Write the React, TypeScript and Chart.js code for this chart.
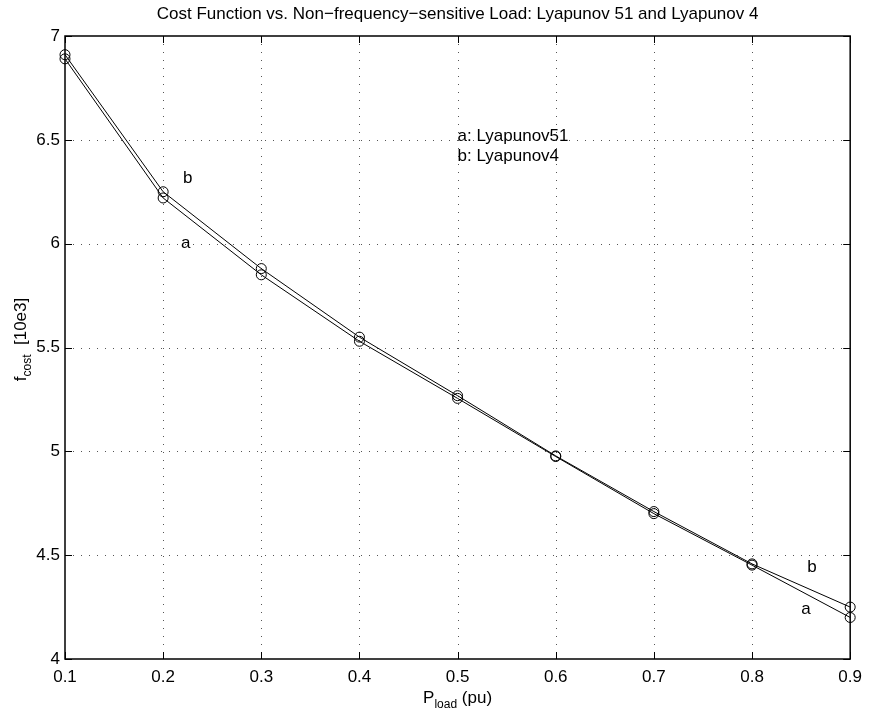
import React, { useEffect, useRef } from "react";
import { Chart, registerables } from "chart.js";

Chart.register(...registerables);

// ---- data ----
const loads = [0.1, 0.2, 0.3, 0.4, 0.5, 0.6, 0.7, 0.8, 0.9];
const costA = [6.89, 6.22, 5.85, 5.53, 5.255, 4.975, 4.7, 4.452, 4.2];
const costB = [6.91, 6.25, 5.88, 5.55, 5.268, 4.978, 4.71, 4.458, 4.25];
const xTicks = [0.1, 0.2, 0.3, 0.4, 0.5, 0.6, 0.7, 0.8, 0.9];
const yTicks = [4, 4.5, 5, 5.5, 6, 6.5, 7];
const titleText =
  "Cost Function vs. Non\u2212frequency\u2212sensitive Load: Lyapunov 51 and Lyapunov 4";
const curveLabels = [
  { text: "b", x: 0.225, y: 6.315 },
  { text: "a", x: 0.223, y: 6.0 },
  { text: "b", x: 0.861, y: 4.443 },
  { text: "a", x: 0.855, y: 4.24 },
];
const legendLines = ["a: Lyapunov51", "b: Lyapunov4"];
const legendPos = { x: 0.5, y: [6.515, 6.42] };

const FONT = "'Liberation Sans', Arial, Helvetica, sans-serif";
const FS = 17;

const framePlugin = {
  id: "matlabFrame",
  beforeDatasetsDraw(chart: any) {
    const { ctx, chartArea: a, scales } = chart;
    ctx.save();
    ctx.strokeStyle = "#555";
    ctx.lineWidth = 1;
    ctx.setLineDash([1, 7]);
    xTicks.slice(1, -1).forEach((v) => {
      const px = Math.round(scales.x.getPixelForValue(v)) + 0.5;
      ctx.beginPath();
      ctx.moveTo(px, a.top);
      ctx.lineTo(px, a.bottom);
      ctx.stroke();
    });
    yTicks.slice(1, -1).forEach((v) => {
      const py = Math.round(scales.y.getPixelForValue(v)) + 0.5;
      ctx.beginPath();
      ctx.moveTo(a.left, py);
      ctx.lineTo(a.right, py);
      ctx.stroke();
    });
    ctx.restore();
  },
  afterDatasetsDraw(chart: any) {
    const { ctx, chartArea: a, scales } = chart;
    ctx.save();
    // frame
    ctx.strokeStyle = "#000";
    ctx.lineWidth = 1.5;
    ctx.strokeRect(a.left, a.top, a.right - a.left, a.bottom - a.top);
    // inward ticks
    const tl = 7;
    ctx.lineWidth = 1;
    xTicks.forEach((v) => {
      const px = Math.round(scales.x.getPixelForValue(v)) + 0.5;
      ctx.beginPath();
      ctx.moveTo(px, a.bottom);
      ctx.lineTo(px, a.bottom - tl);
      ctx.moveTo(px, a.top);
      ctx.lineTo(px, a.top + tl);
      ctx.stroke();
    });
    yTicks.forEach((v) => {
      const py = Math.round(scales.y.getPixelForValue(v)) + 0.5;
      ctx.beginPath();
      ctx.moveTo(a.left, py);
      ctx.lineTo(a.left + tl, py);
      ctx.moveTo(a.right, py);
      ctx.lineTo(a.right - tl, py);
      ctx.stroke();
    });

    ctx.fillStyle = "#000";
    // title
    ctx.font = `${FS}px ${FONT}`;
    ctx.textAlign = "center";
    ctx.textBaseline = "alphabetic";
    ctx.fillText(titleText, (a.left + a.right) / 2, 19);

    // curve labels
    ctx.textAlign = "center";
    ctx.textBaseline = "middle";
    curveLabels.forEach((l) => {
      ctx.fillText(l.text, scales.x.getPixelForValue(l.x), scales.y.getPixelForValue(l.y));
    });
    // legend text
    ctx.textAlign = "left";
    legendLines.forEach((t, i) => {
      ctx.fillText(t, scales.x.getPixelForValue(legendPos.x), scales.y.getPixelForValue(legendPos.y[i]));
    });

    // x label: P_load (pu)
    const subFont = `12px ${FONT}`;
    const mainFont = `${FS}px ${FONT}`;
    ctx.textBaseline = "alphabetic";
    ctx.textAlign = "left";
    ctx.font = mainFont;
    const wP = ctx.measureText("P").width;
    const wRest = ctx.measureText(" (pu)").width;
    ctx.font = subFont;
    const wSub = ctx.measureText("load").width;
    const totalX = wP + wSub + wRest;
    let sx = (a.left + a.right) / 2 - totalX / 2;
    const by = 703;
    ctx.font = mainFont;
    ctx.fillText("P", sx, by);
    ctx.font = subFont;
    ctx.fillText("load", sx + wP, by + 5);
    ctx.font = mainFont;
    ctx.fillText(" (pu)", sx + wP + wSub, by);

    // y label: f_cost [10e3]
    ctx.font = mainFont;
    const wf = ctx.measureText("f").width;
    const wR = ctx.measureText("  [10e3]").width;
    ctx.font = subFont;
    const wc = ctx.measureText("cost").width;
    const totalY = wf + wc + wR;
    ctx.translate(26, (a.top + a.bottom) / 2 - 8);
    ctx.rotate(-Math.PI / 2);
    let tx = -totalY / 2;
    ctx.font = mainFont;
    ctx.fillText("f", tx, 0);
    ctx.font = subFont;
    ctx.fillText("cost", tx + wf, 5);
    ctx.font = mainFont;
    ctx.fillText("  [10e3]", tx + wf + wc, 0);
    ctx.restore();
  },
};

export default function App() {
  const ref = useRef<HTMLCanvasElement | null>(null);
  useEffect(() => {
    if (!ref.current) return;
    const mk = (vals: number[]) => loads.map((x, i) => ({ x, y: vals[i] }));
    const ds = (vals: number[]) => ({
      data: mk(vals),
      borderColor: "#000",
      borderWidth: 1,
      pointRadius: 5,
      pointStyle: "circle",
      pointBackgroundColor: "rgba(0,0,0,0)",
      pointBorderColor: "#000",
      pointBorderWidth: 1,
      tension: 0,
      fill: false,
      clip: false as any,
    });
    const chart = new Chart(ref.current, {
      type: "line",
      data: { datasets: [ds(costA), ds(costB)] as any },
      options: {
        responsive: false,
        animation: false,
        layout: { padding: { left: 0, top: 36, right: 13, bottom: 0 } },
        plugins: { legend: { display: false }, tooltip: { enabled: false }, title: { display: false } },
        scales: {
          x: {
            type: "linear",
            min: 0.1,
            max: 0.9,
            afterBuildTicks: (s: any) => {
              s.ticks = xTicks.map((v) => ({ value: v }));
            },
            afterFit: (s: any) => {
              s.height = 54;
            },
            grid: { display: false, drawTicks: false },
            border: { display: false },
            ticks: {
              autoSkip: false,
              maxRotation: 0,
              padding: 8,
              color: "#000",
              font: { family: FONT, size: FS },
              callback: (v: any) => Number(v).toFixed(1),
            },
          },
          y: {
            type: "linear",
            min: 4,
            max: 7,
            afterBuildTicks: (s: any) => {
              s.ticks = yTicks.map((v) => ({ value: v }));
            },
            afterFit: (s: any) => {
              s.width = 65;
            },
            grid: { display: false, drawTicks: false },
            border: { display: false },
            ticks: {
              autoSkip: false,
              padding: 5,
              color: "#000",
              font: { family: FONT, size: FS },
              callback: (v: any) => String(Number(v)),
            },
          },
        },
      },
      plugins: [framePlugin],
    });
    return () => chart.destroy();
  }, []);
  return (
    <div style={{ position: "fixed", left: 0, top: 0, width: 870, height: 713, background: "#fff" }}>
      <canvas ref={ref} width={870} height={713} style={{ display: "block" }} />
    </div>
  );
}
